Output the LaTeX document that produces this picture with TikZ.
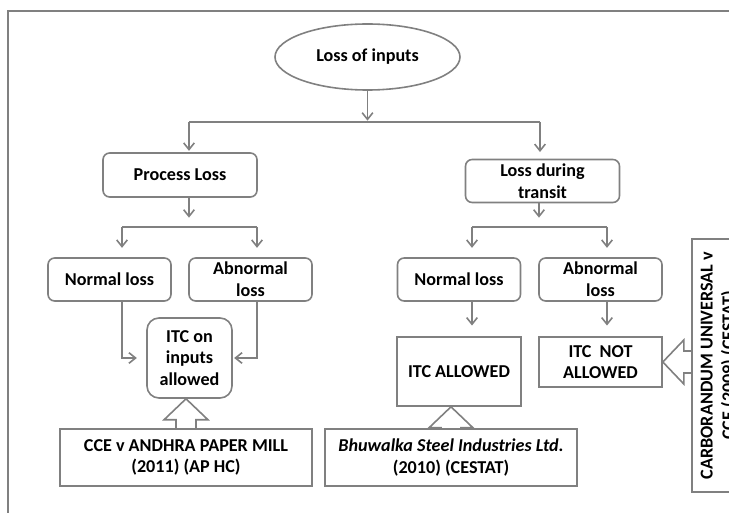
\documentclass[tikz,border=0pt]{standalone}
\usepackage{fontspec}
\setmainfont{Carlito}
\usetikzlibrary{shapes.geometric,arrows.meta,calc}
\definecolor{linegray}{RGB}{128,128,128}
\providecommand{\px}{0.75pt}
\providecommand{\LTfont}{\fontsize{13.6}{16.3}\selectfont\bfseries}
\tikzset{
  lbox/.style={rectangle, draw=linegray, line width=1.2pt, align=center,
               inner sep=1pt, font=\LTfont},
  rbox/.style={lbox, rounded corners=5pt},
  topoval/.style={ellipse, draw=linegray, line width=1.2pt, inner sep=0pt,
                  font=\LTfont},
  edge/.style={draw=linegray, line width=1.2pt},
  arr/.style={edge, -{Straight Barb[length=5pt,width=8pt]}},
  hollow/.style={draw=linegray, line width=1.2pt, line join=miter},
  frameline/.style={draw=linegray, line width=1pt}
}

% hollow block arrow pointing up, from #1 to #2
\newcommand{\blockup}[2]{%
  \coordinate (tip) at (#1.north |- #2.south);
  \draw[hollow] ($(#1.north)+(-10,0)$) -- ($(tip)+(-10,21)$) -- ++(-12,0) -- (tip)
    -- ($(tip)+(22,21)$) -- ++(-12,0) -- ($(#1.north)+(10,0)$);
}

\begin{document}
\begin{tikzpicture}[x=\px, y=-\px]

\useasboundingbox (0,0) rectangle (729,513);
\clip (0,0) rectangle (729,513);

\draw[frameline] (8,520) -- (8,11) -- (740,11);

% top level
\node (loss) [topoval, minimum width=185*\px, minimum height=66*\px]
    at (367.5,57) {Loss of inputs};

\node (process) [rbox, minimum width=154*\px, minimum height=44*\px]
    at (180,175) {Process Loss};

\node (transit) [rbox, minimum width=154*\px, minimum height=43*\px,
                 text depth=-4pt]
    at (542.5,181) {Loss during\\transit};

% second level
\foreach \nm/\cx/\txt in {normA/109.5/{Normal loss}, abnA/250.5/{Abnormal\\loss},
                          normB/459/{Normal loss}, abnB/600.5/{Abnormal\\loss}}{
  \node (\nm) [rbox, minimum width=123*\px, minimum height=43*\px]
      at (\cx,279.5) {\txt};
}

\node (itcin) [lbox, rounded corners=9pt, minimum width=85*\px,
               minimum height=80*\px] at (189.5,358) {ITC on\\inputs\\allowed};

\node (itcok) [lbox, minimum width=124*\px, minimum height=69*\px]
    at (459,371.5) {ITC ALLOWED};

\node (itcno) [lbox, minimum width=123*\px, minimum height=50*\px]
    at (600.5,362) {ITC\ \ NOT\\ALLOWED};

% case law
\node (cce) [lbox, minimum width=252*\px, minimum height=57*\px]
    at (186,457.5) {CCE v ANDHRA PAPER MILL\\(2011) (AP HC)};

\node (bhu) [lbox, minimum width=252*\px, minimum height=57*\px]
    at (451,457.5) {\textit{Bhuwalka Steel Industries Ltd.}\\(2010) (CESTAT)};

\node (carb) [lbox, rotate=90, minimum width=253*\px, minimum height=54*\px]
    at (719,365.5) {CARBORANDUM UNIVERSAL v\\CCE (2009) (CESTAT)};

% bracket points
\coordinate (top)  at (367.5,122);
\coordinate (topL) at (189,122);
\coordinate (topR) at (540,122);
\coordinate (midL) at (189,227);
\coordinate (midR) at (539,227);
\coordinate (lbL)  at (122,227);
\coordinate (lbR)  at (257,227);
\coordinate (rbL)  at (472,227);
\coordinate (rbR)  at (607,227);

% Loss of inputs -> kinds of loss
\draw[arr, shorten >=1pt] (loss) -- (top);
\draw[edge] (topL) -- (topR);
\draw[arr, shorten >=1pt] (topL) -- (topL |- process.north);
\draw[arr, shorten >=5pt] (topR) -- (topR |- transit.north);

% Process Loss -> normal / abnormal
\draw[arr, shorten >=7pt] (midL |- process.south) -- (midL);
\draw[edge] (lbL) -- (lbR);
\draw[arr, shorten >=7pt] (lbL) -- (lbL |- normA.north);
\draw[arr, shorten >=7pt] (lbR) -- (lbR |- abnA.north);
\draw[arr, shorten >=7pt] (lbL |- normA.south) |- (itcin.west);
\draw[arr, shorten >=1pt] (lbR |- abnA.south) |- (itcin.east);

% Loss during transit -> normal / abnormal
\draw[arr, shorten >=7pt] (midR |- transit.south) -- (midR);
\draw[edge] (rbL) -- (rbR);
\draw[arr, shorten >=7pt] (rbL) -- (rbL |- normB.north);
\draw[arr, shorten >=7pt] (rbR) -- (rbR |- abnB.north);
\draw[arr, shorten >=8pt] (rbL |- normB.south) -- (rbL |- itcok.north);
\draw[arr, shorten >=8pt] (rbR |- abnB.south) -- (rbR |- itcno.north);

% case law -> ruling
\blockup{cce}{itcin}
\blockup{bhu}{itcok}

\coordinate (tipc) at (itcno.east);
\draw[hollow] ($(carb.north |- tipc)+(0,-11)$) -- ($(tipc)+(21,-11)$) -- ++(0,-11)
  -- (tipc) -- ($(tipc)+(21,22)$) -- ++(0,-11) -- ($(carb.north |- tipc)+(0,11)$);

\end{tikzpicture}
\end{document}
